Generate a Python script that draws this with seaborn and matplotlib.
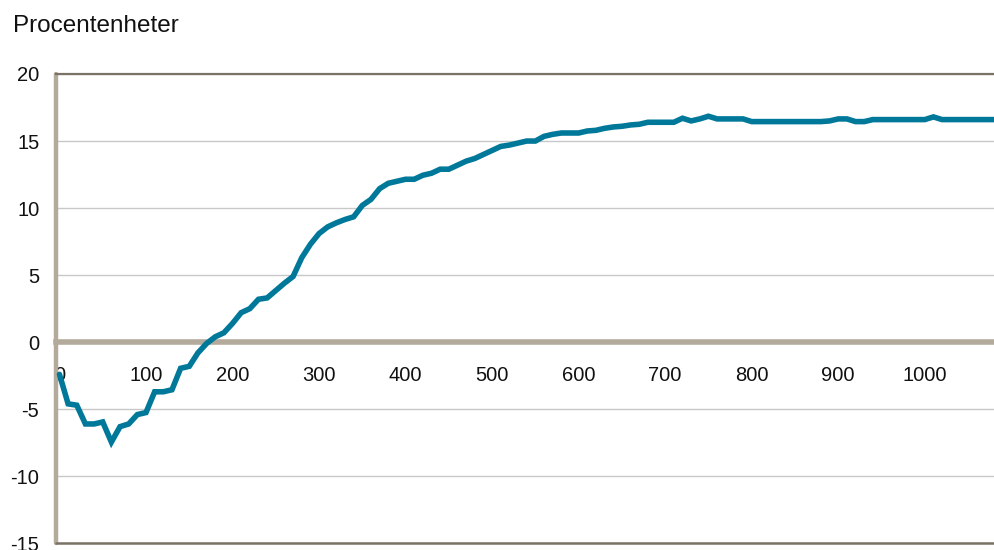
import matplotlib
matplotlib.use("Agg")
import pandas as pd
import seaborn as sns
from matplotlib import pyplot as plt


# data (one point every 10 steps)
steps = list(range(0, 1090, 10))
change = [
    -2.4, -4.6, -4.7, -6.1, -6.1, -5.95, -7.45, -6.3, -6.1, -5.4,
    -5.25, -3.7, -3.7, -3.55, -1.95, -1.8, -0.8, -0.1, 0.4, 0.7,
    1.4, 2.2, 2.5, 3.2, 3.3, 3.85, 4.4, 4.9, 6.3, 7.3,
    8.1, 8.6, 8.9, 9.15, 9.35, 10.2, 10.65, 11.45, 11.85, 12.0,
    12.15, 12.15, 12.45, 12.6, 12.9, 12.9, 13.2, 13.5, 13.7, 14.0,
    14.3, 14.6, 14.7, 14.85, 15.0, 15.0, 15.35, 15.5, 15.6, 15.6,
    15.6, 15.75, 15.8, 15.95, 16.05, 16.1, 16.2, 16.25, 16.4, 16.4,
    16.4, 16.4, 16.7, 16.5, 16.65, 16.85, 16.65, 16.65, 16.65, 16.65,
    16.45, 16.45, 16.45, 16.45, 16.45, 16.45, 16.45, 16.45, 16.45, 16.5,
    16.65, 16.65, 16.45, 16.45, 16.6, 16.6, 16.6, 16.6, 16.6, 16.6,
    16.6, 16.8, 16.6, 16.6, 16.6, 16.6, 16.6, 16.6, 16.6,
]
x_ticks = [0, 100, 200, 300, 400, 500, 600, 700, 800, 900, 1000]
y_ticks = [-15, -10, -5, 0, 5, 10, 15, 20]

df = pd.DataFrame({"steg": steps, "procent": change})

sns.set_style("white")
plt.rcParams["font.family"] = ["Liberation Sans", "DejaVu Sans"]
plt.rcParams["axes.unicode_minus"] = False

fig = plt.figure(figsize=(9.94, 5.5), dpi=100)
ax = fig.add_axes([56 / 994, 1 - 543.3 / 550, 1 - 56 / 994, (543.3 - 74) / 550])

sns.lineplot(data=df, x="steg", y="procent", color="#00789a", linewidth=4,
             ax=ax, zorder=4, solid_joinstyle="miter")

ax.set_xlim(-4, 1080)
ax.set_ylim(-15, 20)
ax.set_xticks(x_ticks)
ax.set_yticks(y_ticks)
ax.set_xlabel("")
ax.set_ylabel("")

# light grid on the y ticks
ax.yaxis.grid(True, color="#c8c8c8", linewidth=1)
ax.set_axisbelow(True)

# axis lines
tan = "#b4aa9b"
ax.spines["bottom"].set_position(("data", 0))
ax.spines["bottom"].set_color(tan)
ax.spines["bottom"].set_linewidth(4)
ax.spines["left"].set_color(tan)
ax.spines["left"].set_linewidth(3.2)
ax.spines["left"].set_capstyle("round")
ax.spines["top"].set_color("#7b7266")
ax.spines["top"].set_linewidth(1.6)
ax.spines["right"].set_visible(False)
ax.axhline(-15, color="#7b7266", linewidth=1.8, clip_on=False, zorder=3)

ax.tick_params(axis="both", length=0, labelsize=14.5, colors="#111111")
ax.tick_params(axis="y", pad=12)
ax.tick_params(axis="x", pad=17)

fig.text(13 / 994, 1 - 32 / 550, "Procentenheter", fontsize=17.5,
         color="#111111", va="baseline", ha="left")

plt.savefig("out.png", dpi=100)
